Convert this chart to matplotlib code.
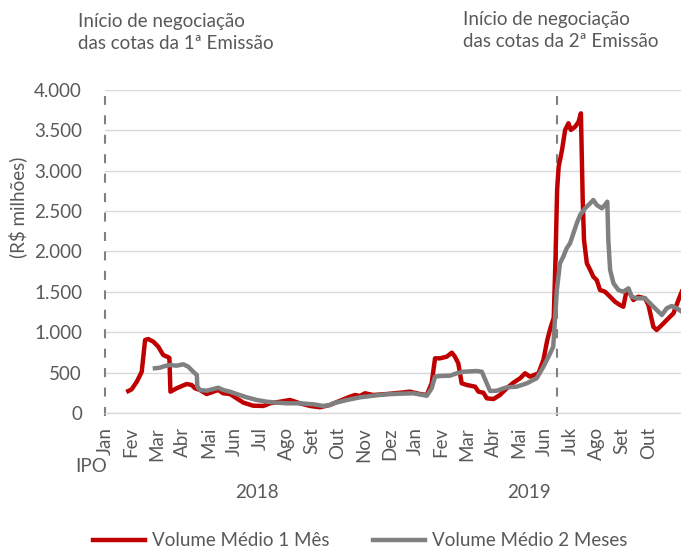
import matplotlib
matplotlib.use("Agg")
import matplotlib.pyplot as plt
from matplotlib.transforms import Bbox, TransformedBbox

plt.rcParams['font.family'] = ['Lato', 'DejaVu Sans']
plt.rcParams['lines.scale_dashes'] = False

# x = months since 1 Jan 2018 (fractional), values in R$ milhões
mes_1m = [0.90, 1.03, 1.23, 1.42, 1.55, 1.67, 1.87, 2.06, 2.25, 2.45, 2.49, 2.53, 2.77, 2.97, 3.16, 3.35, 3.48, 3.67,
          3.93, 4.19, 4.38, 4.57, 4.83, 5.09, 5.35, 5.73, 6.12, 6.38, 6.77, 7.15, 7.54, 7.93, 8.31, 8.70,
          9.09, 9.47, 9.67, 9.86, 10.05, 10.37, 10.89, 11.41, 11.79, 12.18, 12.44, 12.63, 12.76, 12.95, 13.21,
          13.41, 13.53, 13.66, 13.79, 13.99, 14.31, 14.44, 14.63, 14.76, 15.02, 15.27, 15.53, 15.79, 16.05,
          16.24, 16.43, 16.76, 16.95, 17.10, 17.22, 17.35, 17.42, 17.48, 17.54, 17.67, 17.79, 17.92, 18.01,
          18.18, 18.31, 18.40, 18.47, 18.52, 18.63, 18.76, 18.88, 19.01, 19.14, 19.33, 19.53, 19.72, 19.91,
          20.04, 20.17, 20.30, 20.43, 20.62, 20.88, 21.01, 21.20, 21.33, 21.53, 21.72, 21.98, 22.17, 22.30]
vol_1m = [272, 293, 388, 511, 904, 916, 883, 821, 718, 690, 680, 264, 306, 334, 359, 347, 306, 285,
          235, 264, 285, 244, 235, 182, 128, 90, 87, 120, 140, 161, 120, 87, 71, 100,
          152, 202, 223, 211, 244, 223, 235, 251, 264, 235, 223, 368, 677, 677, 697,
          747, 697, 615, 368, 347, 326, 264, 251, 182, 173, 223, 306, 375, 430,
          492, 450, 492, 656, 904, 1050, 1180, 1936, 2762, 3050, 3257, 3505, 3588, 3505,
          3546, 3607, 3711, 2638, 2142, 1854, 1771, 1688, 1647, 1523, 1502, 1440, 1378, 1337,
          1316, 1523, 1482, 1399, 1440, 1420, 1337, 1069, 1028, 1090, 1152, 1235, 1399, 1502]

mes_2m = [1.93, 2.13, 2.32, 2.51, 2.77, 3.03, 3.22, 3.41, 3.55, 3.57, 3.67, 3.93, 4.19, 4.38, 4.57, 4.83,
          5.09, 5.48, 5.87, 6.25, 6.64, 7.03, 7.54, 8.05, 8.44, 8.70, 8.83, 9.35, 9.86, 10.37, 10.89, 11.41,
          11.92, 12.44, 12.63, 12.76, 12.95, 13.34, 13.60, 13.86, 14.37, 14.57, 14.76, 14.89, 15.15, 15.53,
          15.92, 16.31, 16.69, 16.95, 17.21, 17.33, 17.47, 17.59, 17.72, 17.85, 17.98, 18.11, 18.24, 18.37,
          18.56, 18.76, 18.88, 19.01, 19.21, 19.33, 19.42, 19.46, 19.53, 19.66, 19.85, 20.04, 20.24, 20.36,
          20.56, 20.88, 21.14, 21.40, 21.53, 21.72, 21.91, 22.11, 22.30]
vol_2m = [554, 561, 582, 594, 586, 603, 573, 511, 471, 326, 285, 276, 297, 313, 285, 264,
          235, 194, 161, 140, 128, 120, 120, 108, 87, 99, 120, 161, 194, 214, 232, 239,
          244, 214, 306, 450, 458, 462, 492, 511, 520, 511, 368, 272, 276, 318,
          326, 368, 430, 573, 739, 821, 1523, 1854, 1936, 2040, 2102, 2225, 2349, 2452,
          2535, 2597, 2638, 2576, 2535, 2576, 2617, 2142, 1771, 1606, 1523, 1502, 1544, 1440,
          1420, 1420, 1337, 1254, 1214, 1297, 1325, 1297, 1254]

mes_labels = ['Jan', 'Fev', 'Mar', 'Abr', 'Mai', 'Jun', 'Jul', 'Ago', 'Set', 'Out', 'Nov', 'Dez',
              'Jan', 'Fev', 'Mar', 'Abr', 'Mai', 'Jun', 'Juk', 'Ago', 'Set', 'Out']
y_ticks = [0, 500, 1000, 1500, 2000, 2500, 3000, 3500, 4000]
y_labels = ['0', '500', '1.000', '1.500', '2.000', '2.500', '3.000', '3.500', '4.000']
eventos = [0.0, 17.48]

W, H = 681, 552
fig = plt.figure(figsize=(W / 100, H / 100), dpi=100)
ax = fig.add_axes([105 / W, 1 - 413 / H, (W - 105) / W, (413 - 90) / H])

TXT = '#595959'
FS = 13.5
RED = '#C00000'
GRAY = '#808080'

ax.set_xlim(0, 22.27)
ax.set_ylim(0, 4000)
ax.set_yticks(y_ticks)
ax.set_yticklabels(y_labels)
ax.set_xticks(range(len(mes_labels)))
ax.set_xticklabels(mes_labels, rotation=90)
ax.tick_params(axis='y', length=0, pad=16.5, labelsize=FS, labelcolor=TXT)
ax.tick_params(axis='x', length=0, pad=10, labelsize=FS, labelcolor=TXT)
ax.grid(axis='y', color='#D9D9D9', lw=1.0)
ax.set_axisbelow(True)
for s in ['top', 'right', 'left']:
    ax.spines[s].set_visible(False)
ax.spines['bottom'].set_color('#D9D9D9')
ax.spines['bottom'].set_linewidth(1.0)

for ev in eventos:
    ax.plot([ev, ev], [-40, 3930], color=GRAY, lw=1.5, dashes=(6.5, 7.5), clip_on=False, zorder=1.5)

ax.plot(mes_1m, vol_1m, color=RED, lw=3.2, solid_joinstyle='round', label='Volume Médio 1 Mês', zorder=3)
ax.plot(mes_2m, vol_2m, color=GRAY, lw=3.2, solid_joinstyle='round', label='Volume Médio 2 Meses', zorder=3)

fig.text(18 / W, 1 - 207 / H, '(R$ milhões)', rotation=90, ha='center', va='center', fontsize=FS, color=TXT)
fig.text(91 / W, 1 - 467 / H, 'IPO', ha='center', va='center', fontsize=FS, color=TXT)
fig.text(257 / W, 1 - 493 / H, '2018', ha='center', va='center', fontsize=FS, color=TXT)
fig.text(529 / W, 1 - 493 / H, '2019', ha='center', va='center', fontsize=FS, color=TXT)

fig.text(78 / W, 1 - 32.5 / H, 'Início de negociação\ndas cotas da 1ª Emissão', ha='left', va='center',
         fontsize=FS, color=TXT, linespacing=1.33)
t2 = fig.text(463 / W, 1 - 30.5 / H, 'Início de negociação\ndas cotas da 2ª Emissão', ha='left', va='center',
              fontsize=FS, color=TXT, linespacing=1.33)
t2.set_clip_box(TransformedBbox(Bbox([[0, 1 - 47 / H], [1, 1]]), fig.transFigure))
t2.set_clip_on(True)

fig.legend(loc='center', bbox_to_anchor=(360 / W, 1 - 541 / H), ncol=2, frameon=False,
           fontsize=FS, labelcolor=TXT, handlelength=2.77, handletextpad=0.37, columnspacing=2.3)

fig.savefig('out.png', dpi=100)
